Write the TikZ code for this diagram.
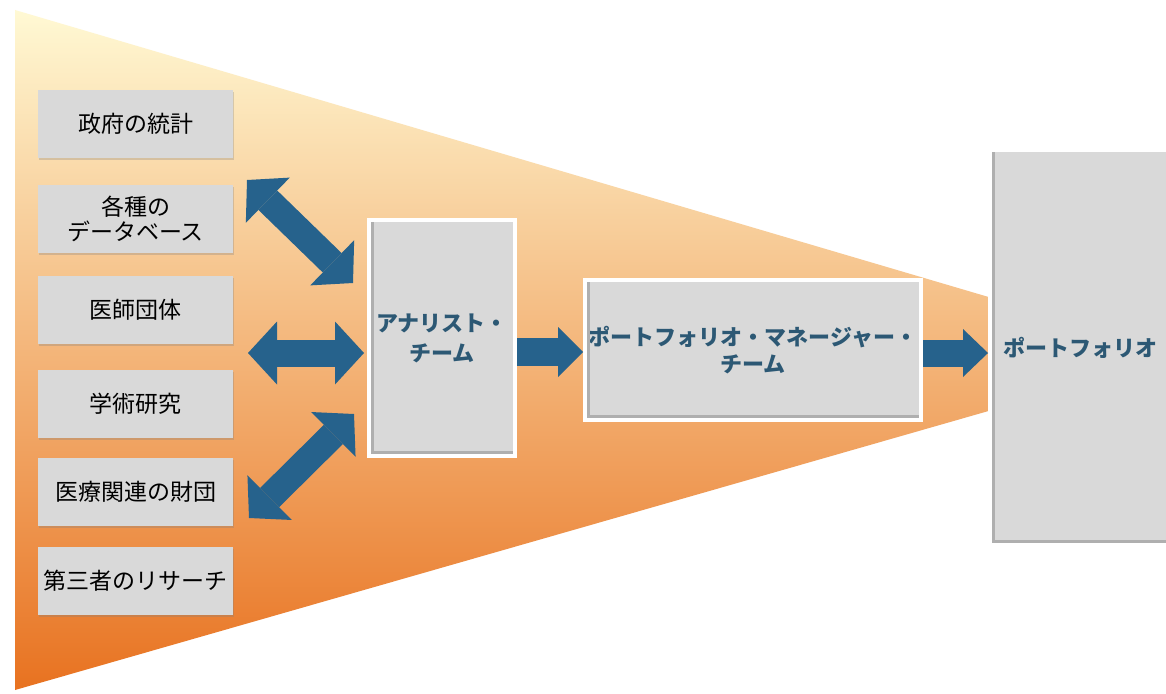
\documentclass[tikz,border=0pt]{standalone}
\usepackage{fontspec}
\newfontfamily\jp{Noto Sans CJK JP}
\usetikzlibrary{arrows.meta,shadows}
\definecolor{boxgray}{RGB}{217,217,217}
\definecolor{bevelgray}{RGB}{175,175,175}
\definecolor{arrowblue}{RGB}{38,98,140}
\definecolor{txtblue}{RGB}{44,88,116}
\definecolor{fanTop}{RGB}{255,249,212}
\definecolor{fanMid}{RGB}{249,208,148}
\definecolor{fanBot}{RGB}{232,114,32}
\begin{document}
\begin{tikzpicture}[x=1pt,y=-1pt,
  srcbox/.style={fill=boxgray, minimum width=195pt, minimum height=68pt, inner sep=0pt,
    align=center, font=\jp\fontsize{23}{25}\selectfont,
    drop shadow={shadow xshift=1pt,shadow yshift=-2pt,opacity=.3}},
  teambox/.style={fill=boxgray, draw=white, line width=4pt, inner sep=0pt, align=center,
    text=txtblue, font=\jp\bfseries\fontsize{22}{27}\selectfont,
    drop shadow={shadow xshift=2pt,shadow yshift=-2pt,opacity=.25}},
  bevel/.style={fill=bevelgray},
  dblarrow/.style={draw=arrowblue, line width=27pt, line cap=butt,
    {Triangle[length=29pt,width=63pt,line width=0pt]}-{Triangle[length=29pt,width=63pt,line width=0pt]}},
  fwdarrow/.style={draw=arrowblue, line width=28pt, line cap=butt,
    -{Triangle[length=25pt,width=50pt,line width=0pt]}}
]
\clip (0,0) rectangle (1166,693);
\fill[white] (0,0) rectangle (1166,693);
% fan background
\shade[top color=fanTop, middle color=fanMid, bottom color=fanBot]
  (15,10) -- (992,298) -- (992,410) -- (15,690) -- cycle;

% source boxes
\node[srcbox] (s1) at (135.5,124) {政府の統計};
\node[srcbox] (s2) at (135.5,219) {各種の\\データベース};
\node[srcbox] (s3) at (135.5,310) {医師団体};
\node[srcbox] (s4) at (135.5,403.5) {学術研究};
\node[srcbox] (s5) at (135.5,491.5) {医療関連の財団};
\node[srcbox] (s6) at (135.5,581) {第三者のリサーチ};

% team boxes
\node[teambox, minimum width=146pt, minimum height=236pt,
  font=\jp\bfseries\fontsize{22}{30}\selectfont] (an) at (442,338) {アナリスト・\\チーム};
\node[teambox, minimum width=336pt, minimum height=140pt] (pm) at (753,350) {ポートフォリオ・マネージャー・\\チーム};
\node[teambox, minimum width=180pt, minimum height=395pt] (pf) at (1080,347.5) {ポートフォリオ};

\foreach \n in {an,pm,pf}{
  \fill[bevel] ([xshift=4pt,yshift=4pt]\n.south west) rectangle ([xshift=-4pt,yshift=7pt]\n.south east);
  \fill[bevel] ([xshift=4pt,yshift=4pt]\n.south west) rectangle ([xshift=7pt,yshift=-4pt]\n.north west);
}

% connector ends
\coordinate (d1a) at (247,180);
\coordinate (d1b) at (353,283);
\coordinate (ha) at (248,353);
\coordinate (hb) at (364,353);
\coordinate (d2a) at (249,518);
\coordinate (d2b) at (354,414);

\draw[dblarrow] (d1a) -- (d1b);
\draw[dblarrow] (ha) -- (hb);
\draw[dblarrow] (d2a) -- (d2b);
\draw[fwdarrow] ([yshift=-14pt]an.east) -- ([yshift=-2pt]pm.west);
\draw[fwdarrow, line width=27pt, -{Triangle[length=25pt,width=48pt,line width=0pt]}] ([yshift=-3pt]pm.east) -- ([yshift=-5.5pt]pf.west);
\end{tikzpicture}
\end{document}
